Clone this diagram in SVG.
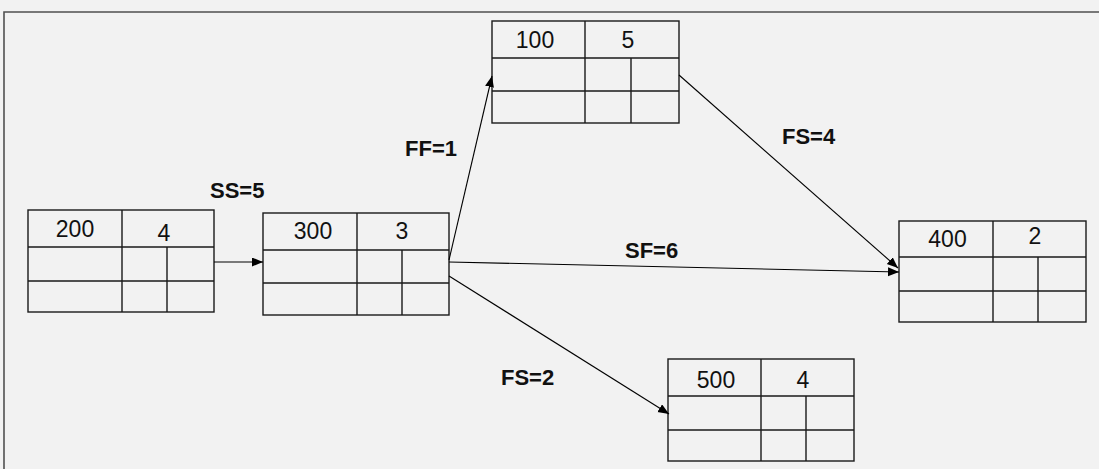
<svg xmlns="http://www.w3.org/2000/svg" width="1099" height="469" viewBox="0 0 1099 469">
<defs>
<marker id="arr" markerUnits="userSpaceOnUse" markerWidth="12" markerHeight="10" refX="11" refY="4.5" orient="auto">
<path d="M0,0 L11,4.5 L0,9 z" fill="#000"/>
</marker>
</defs>
<style>
.box{fill:none;stroke:#1a1a1a;stroke-width:1.4}
.num{font-family:"Liberation Sans",Arial,sans-serif;font-size:23px;fill:#111;text-anchor:middle}
.lbl{font-family:"Liberation Sans",Arial,sans-serif;font-size:22px;font-weight:bold;fill:#111}
.con{fill:none;stroke:#000;stroke-width:1.1;marker-end:url(#arr)}
</style>
<rect x="0" y="0" width="1099" height="469" fill="#f2f2f2"/>
<path d="M4,469 V12 H1099" fill="none" stroke="#505050" stroke-width="1.6"/>

<g id="node-200">
<rect class="box" x="28" y="210" width="186" height="102"/>
<path class="box" d="M28,247 H214 M28,281 H214 M122,210 V312 M167,247 V312"/>
<text class="num" x="75" y="237">200</text>
<text class="num" x="164" y="241">4</text>
</g>

<g id="node-300">
<rect class="box" x="263" y="213" width="186" height="102"/>
<path class="box" d="M263,250 H449 M263,283 H449 M357,213 V315 M402,250 V315"/>
<text class="num" x="313" y="239">300</text>
<text class="num" x="402" y="239">3</text>
</g>

<g id="node-100">
<rect class="box" x="492" y="21" width="187" height="102"/>
<path class="box" d="M492,58 H679 M492,91 H679 M585,21 V123 M631,58 V123"/>
<text class="num" x="535" y="48">100</text>
<text class="num" x="628" y="48">5</text>
</g>

<g id="node-400">
<rect class="box" x="899" y="221" width="187" height="101"/>
<path class="box" d="M899,257 H1086 M899,291 H1086 M993,221 V322 M1038,257 V322"/>
<text class="num" x="947.5" y="247">400</text>
<text class="num" x="1035" y="244">2</text>
</g>

<g id="node-500">
<rect class="box" x="668" y="359" width="186" height="102"/>
<path class="box" d="M668,396 H854 M668,430 H854 M761,359 V461 M806,396 V461"/>
<text class="num" x="716" y="388">500</text>
<text class="num" x="803" y="388">4</text>
</g>

<g id="connectors">
<line class="con" x1="214" y1="262" x2="263" y2="262"/>
<line class="con" x1="449" y1="260" x2="492" y2="76"/>
<line class="con" x1="449" y1="262" x2="899" y2="272"/>
<line class="con" x1="449" y1="276" x2="669" y2="414"/>
<line class="con" x1="679" y1="75" x2="898" y2="268"/>
<text class="lbl" x="210" y="198">SS=5</text>
<text class="lbl" x="405" y="156">FF=1</text>
<text class="lbl" x="782" y="144">FS=4</text>
<text class="lbl" x="625" y="258">SF=6</text>
<text class="lbl" x="501" y="385">FS=2</text>
</g>
</svg>
